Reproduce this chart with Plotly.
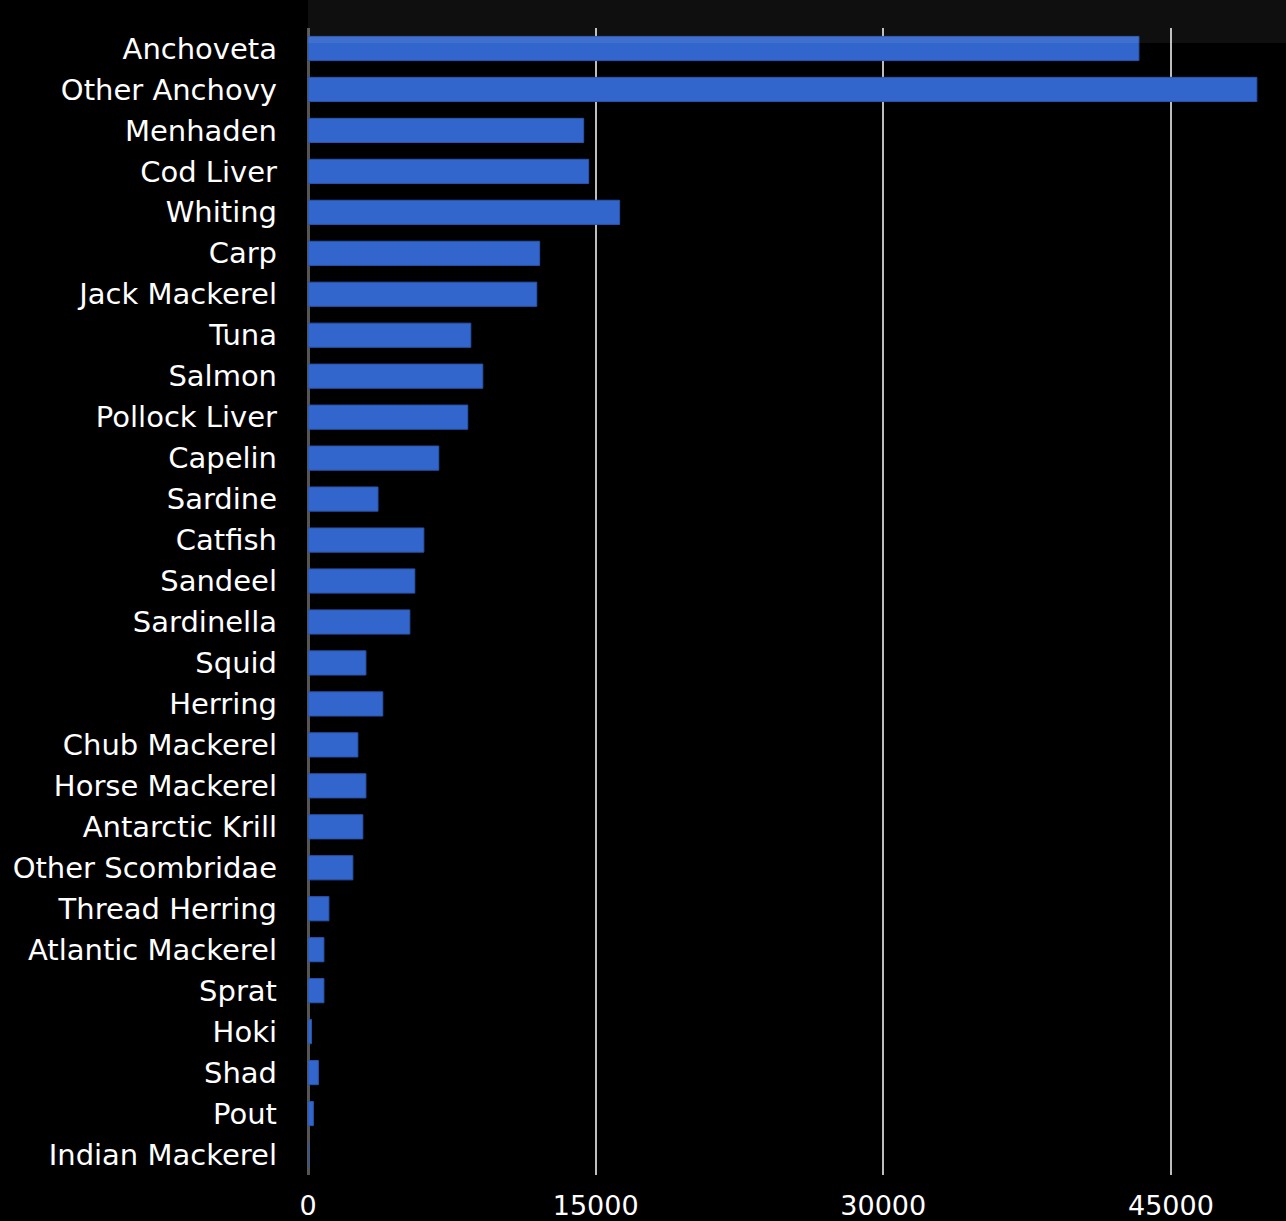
import plotly.graph_objects as go

categories = ["Anchoveta", "Other Anchovy", "Menhaden", "Cod Liver", "Whiting", "Carp",
              "Jack Mackerel", "Tuna", "Salmon", "Pollock Liver", "Capelin", "Sardine",
              "Catfish", "Sandeel", "Sardinella", "Squid", "Herring", "Chub Mackerel",
              "Horse Mackerel", "Antarctic Krill", "Other Scombridae", "Thread Herring",
              "Atlantic Mackerel", "Sprat", "Hoki", "Shad", "Pout", "Indian Mackerel"]
values = [43330, 49480, 14375, 14635, 16250, 12080,
          11930, 8490, 9115, 8330, 6820, 3650,
          6040, 5570, 5310, 3020, 3900, 2600,
          3020, 2860, 2340, 1090,
          830, 830, 180, 540, 280, 20]
x_ticks = [0, 15000, 30000, 45000]

fig = go.Figure(go.Bar(
    x=values, y=categories, orientation="h",
    width=0.59,
    marker=dict(color="#3366cc", line=dict(color="#2a55aa", width=1)),
))

fig.update_layout(
    width=1286, height=1221,
    paper_bgcolor="black", plot_bgcolor="black",
    margin=dict(l=308, r=0, t=28, b=46),
    font=dict(family="DejaVu Sans", color="white"),
    showlegend=False,
    bargap=0.4,
)
fig.update_xaxes(
    range=[0, 51000], tickvals=x_ticks, ticktext=[str(v) for v in x_ticks],
    showgrid=True, gridcolor="#bdbdbd", gridwidth=2,
    zeroline=True, zerolinecolor="#555555", zerolinewidth=3,
    tickfont=dict(size=27, color="white"), ticklabelstandoff=12,
    showline=False,
)
fig.update_yaxes(
    categoryorder="array", categoryarray=categories, autorange="reversed",
    tickfont=dict(size=29, color="white"), ticklabelstandoff=30,
    showgrid=False, showline=False,
)
# dim hatched overlay band at top
fig.add_shape(type="rect", xref="paper", yref="paper", x0=0, x1=1,
              y0=1 - 15 / 1147, y1=1 + 28 / 1147,
              fillcolor="rgba(255,255,255,0.06)", line=dict(width=0), layer="above")

fig.write_html("out.html", config={"displayModeBar": False},
               post_script="document.body.style.margin='0';document.body.style.background='black';")
